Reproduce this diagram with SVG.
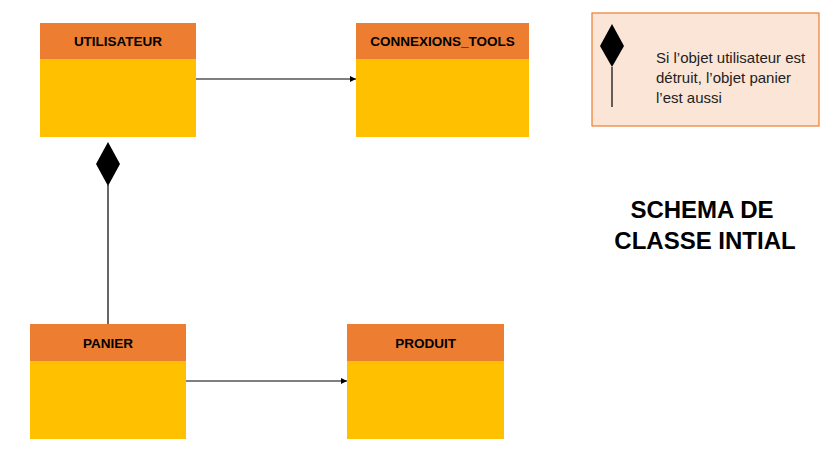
<svg xmlns="http://www.w3.org/2000/svg" width="827" height="450" viewBox="0 0 827 450">
<style>
.hd{fill:#ED7D31}
.bd{fill:#FFC000}
.ht{font-family:"Liberation Sans",Arial,sans-serif;font-weight:bold;font-size:13.5px;fill:#000;text-anchor:middle}
.ln{stroke:#000;stroke-width:1.2;fill:none}
.lg{font-family:"Liberation Sans",Arial,sans-serif;font-size:15px;fill:#222}
.tt{font-family:"Liberation Sans",Arial,sans-serif;font-weight:bold;font-size:24px;fill:#000;text-anchor:middle}
</style>
<defs>
<marker id="arr" markerWidth="6" markerHeight="6" refX="6" refY="3" orient="auto" markerUnits="userSpaceOnUse">
<path d="M0,0 L6,3 L0,6 z" fill="#000"/>
</marker>
</defs>
<rect width="827" height="450" fill="#fff"/>
<g id="connectors">
<line class="ln" x1="196" y1="79" x2="356" y2="79" marker-end="url(#arr)"/>
<line class="ln" x1="186" y1="381" x2="347" y2="381" marker-end="url(#arr)"/>
<line class="ln" x1="108" y1="185" x2="108" y2="324"/>
<polygon points="108,142 120,164 108,186 96,164" fill="#000"/>
</g>
<g id="utilisateur">
<rect class="bd" x="40" y="59" width="156" height="78"/>
<rect class="hd" x="40" y="23" width="156" height="36"/>
<text class="ht" x="118" y="46">UTILISATEUR</text>
</g>
<g id="connexions_tools">
<rect class="bd" x="356" y="59" width="173" height="78"/>
<rect class="hd" x="356" y="23" width="173" height="36"/>
<text class="ht" x="442.5" y="46">CONNEXIONS_TOOLS</text>
</g>
<g id="panier">
<rect class="bd" x="30" y="361" width="156" height="78"/>
<rect class="hd" x="30" y="324" width="156" height="37"/>
<text class="ht" x="108" y="348">PANIER</text>
</g>
<g id="produit">
<rect class="bd" x="347" y="361" width="157" height="78"/>
<rect class="hd" x="347" y="324" width="157" height="37"/>
<text class="ht" x="425.5" y="348">PRODUIT</text>
</g>
<g id="legend">
<rect x="592" y="13" width="227" height="113" fill="#FBE5D6" stroke="#ED7D31" stroke-width="1.2"/>
<polygon points="612,24 624,46 612,67 600,46" fill="#000"/>
<line class="ln" x1="612" y1="67" x2="612" y2="107"/>
<text class="lg" x="656" y="63">Si l’objet utilisateur est</text>
<text class="lg" x="656" y="83">détruit, l’objet panier</text>
<text class="lg" x="656" y="103">l’est aussi</text>
</g>
<g id="title">
<text class="tt" x="702" y="218">SCHEMA DE</text>
<text class="tt" x="705" y="249">CLASSE INTIAL</text>
</g>
</svg>
